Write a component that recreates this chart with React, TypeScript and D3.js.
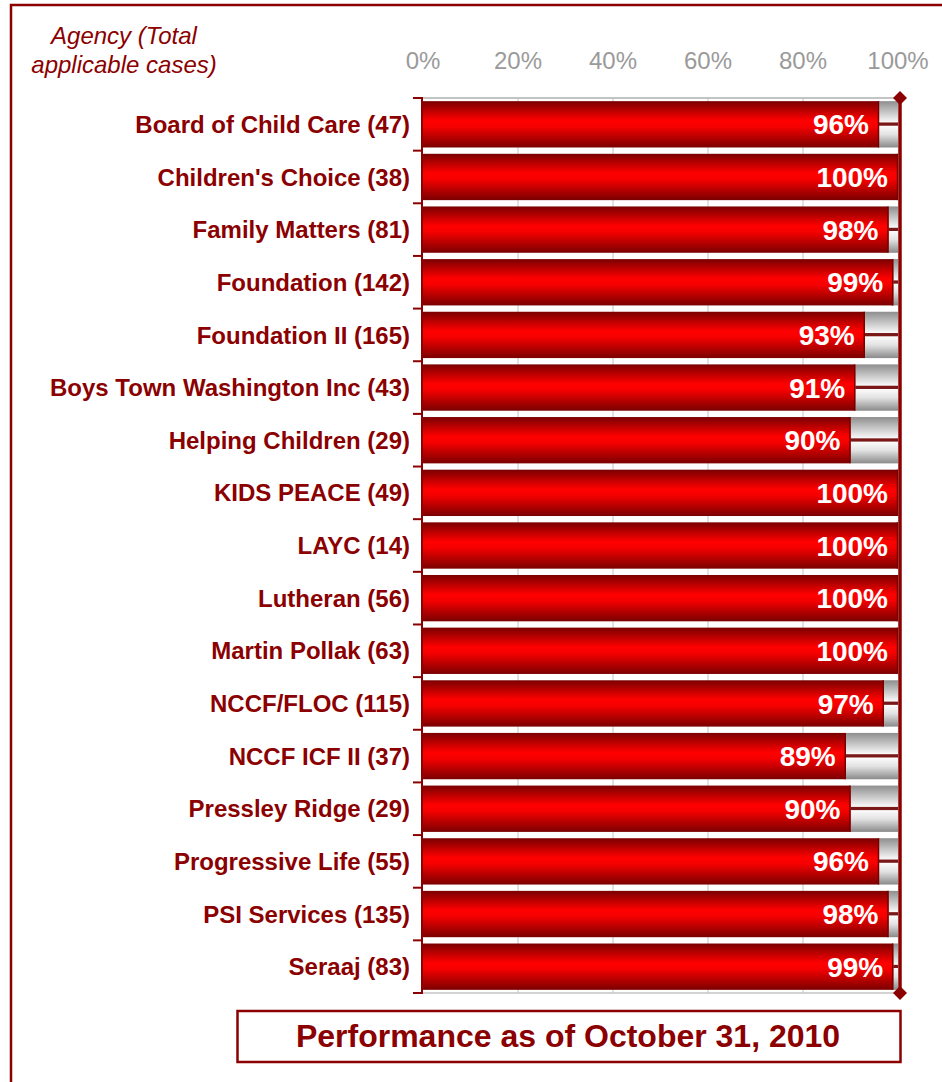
import React from "react";
import * as d3 from "d3";

const categories = [
  "Board of Child Care (47)",
  "Children's Choice (38)",
  "Family Matters (81)",
  "Foundation (142)",
  "Foundation II (165)",
  "Boys Town Washington Inc (43)",
  "Helping Children (29)",
  "KIDS PEACE (49)",
  "LAYC (14)",
  "Lutheran (56)",
  "Martin Pollak (63)",
  "NCCF/FLOC (115)",
  "NCCF ICF II (37)",
  "Pressley Ridge (29)",
  "Progressive Life (55)",
  "PSI Services (135)",
  "Seraaj (83)",
];
const values = [96, 100, 98, 99, 93, 91, 90, 100, 100, 100, 100, 97, 89, 90, 96, 98, 99];
const xTicks = [0, 20, 40, 60, 80, 100];
const title = "Performance as of October 31, 2010";
const axisTitle = ["Agency (Total", "applicable cases)"];

const W = 942;
const H = 1082;
const M = { left: 423, right: 898, top: 98, bottom: 993 };
const DARK = "#8b0000";
const FONT = "'Liberation Sans', Arial, Helvetica, sans-serif";

export default function App() {
  const x = d3.scaleLinear().domain([0, 100]).range([M.left, M.right]);
  const y = d3
    .scaleBand<string>()
    .domain(categories)
    .range([M.top, M.bottom])
    .paddingInner(0.12)
    .paddingOuter(0.06);
  const step = y.step();
  const bounds = d3.range(categories.length + 1).map((i) => M.top + i * step);

  return (
    <svg
      width={W}
      height={H}
      style={{ position: "absolute", left: 0, top: 0, background: "#fff" }}
      fontFamily={FONT}
    >
      <defs>
        <linearGradient id="redG" x1="0" y1="0" x2="0" y2="1">
          <stop offset="0" stopColor="#7a0000" />
          <stop offset="0.42" stopColor="#ff0000" />
          <stop offset="0.55" stopColor="#f60000" />
          <stop offset="1" stopColor="#7a0000" />
        </linearGradient>
        <linearGradient id="grayG" x1="0" y1="0" x2="0" y2="1">
          <stop offset="0" stopColor="#8e8e8e" />
          <stop offset="0.45" stopColor="#f8f8f8" />
          <stop offset="0.47" stopColor="#7a1818" />
          <stop offset="0.52" stopColor="#7a1818" />
          <stop offset="0.54" stopColor="#fbfbfb" />
          <stop offset="0.72" stopColor="#e2e2e2" />
          <stop offset="1" stopColor="#8a8a8a" />
        </linearGradient>
      </defs>

      {/* outer frame */}
      <rect x={11} y={5} width={1000} height={1200} fill="none" stroke={DARK} strokeWidth={2.5} />

      {/* axis title */}
      {axisTitle.map((t, i) => (
        <text
          key={t}
          x={124}
          y={44 + i * 29}
          textAnchor="middle"
          fontStyle="italic"
          fontSize={24}
          fill={DARK}
        >
          {t}
        </text>
      ))}

      {/* x tick labels */}
      {xTicks.map((t) => (
        <text key={t} x={x(t)} y={69} textAnchor="middle" fontSize={24} fill="#9a9a9a">
          {t}%
        </text>
      ))}

      {/* gridlines */}
      {xTicks.slice(1, -1).map((t) => (
        <line key={t} x1={x(t)} x2={x(t)} y1={M.top} y2={M.bottom} stroke="#c4c4c4" strokeWidth={1} />
      ))}
      <line x1={M.left} x2={M.right} y1={M.top} y2={M.top} stroke="#b0b0b0" strokeWidth={1.5} />
      <line x1={M.left} x2={M.right} y1={M.bottom} y2={M.bottom} stroke="#c4c4c4" strokeWidth={1.5} />

      {/* bars */}
      {categories.map((c, i) => {
        const v = values[i];
        const by = y(c)!;
        const bh = y.bandwidth();
        return (
          <g key={c}>
            {v < 100 && (
              <rect x={x(v)} y={by} width={x(100) - x(v)} height={bh} fill="url(#grayG)" />
            )}
            <rect x={x(0)} y={by} width={x(v) - x(0)} height={bh} fill="url(#redG)" />
            <line x1={x(v) - 0.5} x2={x(v) - 0.5} y1={by} y2={by + bh} stroke="#7a0000" strokeWidth={1.5} />
            <text
              x={x(v) - 10}
              y={by + bh / 2}
              dy="0.36em"
              textAnchor="end"
              fontSize={28}
              fontWeight="bold"
              fill="#fff"
            >
              {v}%
            </text>
            <text
              x={410}
              y={by + bh / 2}
              dy="0.36em"
              textAnchor="end"
              fontSize={24}
              fontWeight="bold"
              fill={DARK}
            >
              {c}
            </text>
          </g>
        );
      })}

      {/* left axis */}
      <line x1={M.left - 1} x2={M.left - 1} y1={M.top} y2={M.bottom} stroke={DARK} strokeWidth={2} />
      {bounds.map((b, i) => (
        <line key={i} x1={M.left - 10} x2={M.left} y1={b} y2={b} stroke={DARK} strokeWidth={2} />
      ))}

      {/* right line with diamonds */}
      <line x1={M.right + 2} x2={M.right + 2} y1={M.top} y2={M.bottom} stroke={DARK} strokeWidth={3.5} />
      {[M.top, M.bottom].map((yy) => (
        <path
          key={yy}
          d={`M${M.right + 2},${yy - 7} L${M.right + 9},${yy} L${M.right + 2},${yy + 7} L${M.right - 5},${yy} Z`}
          fill={DARK}
        />
      ))}

      {/* title box */}
      <rect x={237.5} y={1011} width={663} height={51} fill="#fff" stroke={DARK} strokeWidth={2.5} />
      <text x={568} y={1047} textAnchor="middle" fontSize={32} fontWeight="bold" fill={DARK}>
        {title}
      </text>
    </svg>
  );
}
